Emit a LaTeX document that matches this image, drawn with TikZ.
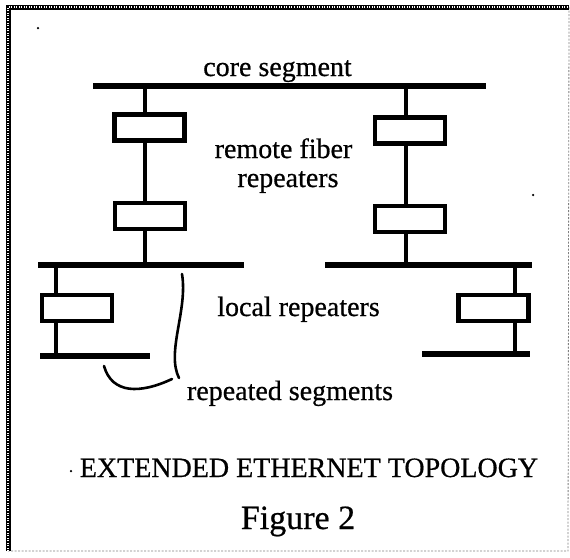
\documentclass[tikz,border=0pt]{standalone}
\usepackage{fontspec}
\setmainfont{Liberation Serif}[BoldFont=Liberation Serif, BoldFeatures={FakeBold=0.6}]
\begin{document}
\begin{tikzpicture}[x=1pt,y=-1pt,
  seg/.style={line width=5.5pt},
  tap/.style={line width=4.2pt},
  rep/.style={draw, line width=4.8pt, minimum width=70pt, minimum height=26pt, inner sep=0pt},
  lbl/.style={font=\fontsize{28}{32}\selectfont\bfseries, anchor=base, inner sep=0pt},
  brace/.style={line width=2.6pt, line cap=round},
  frameA/.style={line width=5pt},
  frameB/.style={line width=0.8pt, gray, dash pattern=on 2pt off 1.5pt},
  speck/.style={fill=black, inner sep=0pt, minimum size=2.5pt, circle}]
\useasboundingbox (0,0) rectangle (570,557);
% frame
\coordinate (fTL) at (8,7);
\coordinate (fTR) at (569,7);
\coordinate (fBL) at (8,551);
\coordinate (fBR) at (568,551);
\draw[frameB] (fTR) -- (fBR) -- (fBL);
\draw[frameA] (fBL) -- (fTL) -- (fTR);
\draw[white, line width=1.4pt, dash pattern=on 0.9pt off 1.6pt] (fBL) -- (fTL) -- (fTR);
% core segment
\coordinate (coreW) at (93,86);
\coordinate (coreE) at (486,86);
\coordinate (cL) at (145,86);
\coordinate (cR) at (406,86);
\draw[seg] (coreW) -- (coreE);
% repeaters
\node[rep] (rL1) at (149.5,127.5) {};
\node[rep] (rL2) at (150,216) {};
\node[rep] (rR1) at (410,130.5) {};
\node[rep] (rR2) at (410,219) {};
\node[rep] (lL) at (77,308) {};
\node[rep] (lR) at (493.5,308) {};
% middle segments
\coordinate (mLW) at (38,265);
\coordinate (mLE) at (244,265);
\coordinate (mRW) at (325,265);
\coordinate (mRE) at (532,265);
\coordinate (mL) at (145,265);
\coordinate (mR) at (406,265);
\draw[seg] (mLW) -- (mLE);
\draw[seg] (mRW) -- (mRE);
% bottom segments
\coordinate (bLW) at (40,356);
\coordinate (bLE) at (150,356);
\coordinate (bRW) at (422,354);
\coordinate (bRE) at (530,354);
\coordinate (tLL) at (56,265);
\coordinate (tLB) at (56,356);
\coordinate (tRL) at (515,265);
\coordinate (tRB) at (515,354);
\draw[seg] (bLW) -- (bLE);
\draw[seg] (bRW) -- (bRE);
% taps
\draw[tap] (cL) -- (cL |- rL1.north);
\draw[tap] (rL1.south -| cL) -- (rL2.north -| cL);
\draw[tap] (rL2.south -| cL) -- (mL);
\draw[tap] (cR) -- (cR |- rR1.north);
\draw[tap] (rR1.south -| cR) -- (rR2.north -| cR);
\draw[tap] (rR2.south -| cR) -- (mR);
\draw[tap] (tLL) -- (tLL |- lL.north);
\draw[tap] (lL.south -| tLL) -- (tLB);
\draw[tap] (tRL) -- (tRL |- lR.north);
\draw[tap] (lR.south -| tRL) -- (tRB);
% braces
\coordinate (b1s) at (182,274);
\coordinate (b1e) at (179,378);
\coordinate (b2s) at (104,366);
\coordinate (b2e) at (172,379);
\draw[brace] (b1s) .. controls (188,310) and (166,352) .. (b1e);
\draw[brace] (b2s) .. controls (112,394) and (140,394) .. (b2e);
% labels
\node[lbl] (core) at (277.5,76) {core segment};
\node[lbl] (remote1) at (283.5,158) {remote fiber};
\node[lbl] (remote2) at (288,187) {repeaters};
\node[lbl] (local) at (298.5,316) {local repeaters};
\node[lbl] (repseg) at (290,400) {repeated segments};
\node[lbl] (title) at (309,477) {EXTENDED ETHERNET TOPOLOGY};
\node[lbl, font=\fontsize{34}{38}\selectfont\bfseries] (fig) at (298,529) {Figure 2};
% specks
\node[speck] (s1) at (38,28) {};
\node[speck] (s2) at (533,195) {};
\node[speck] (s3) at (71,471) {};
\end{tikzpicture}
\end{document}
